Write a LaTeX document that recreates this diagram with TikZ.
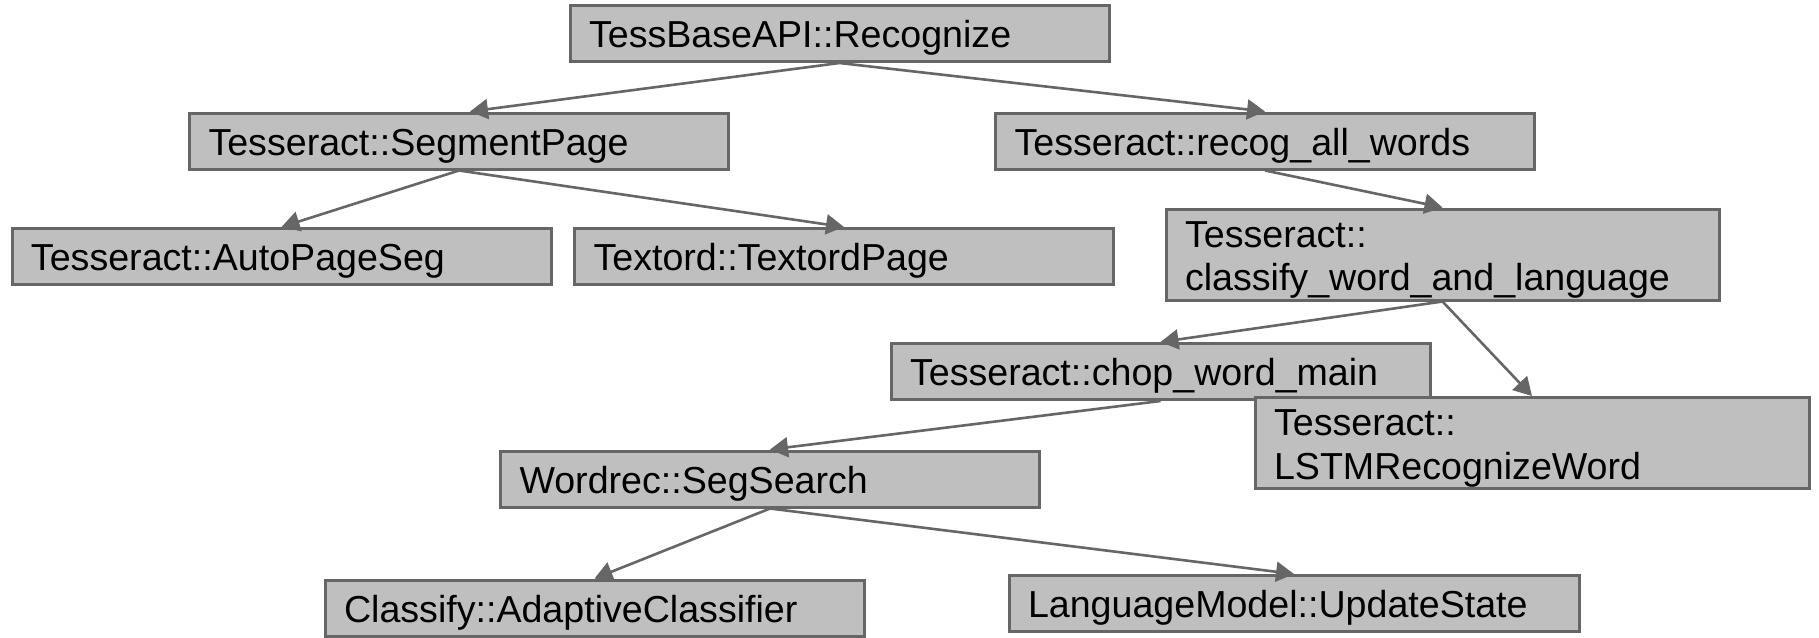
\documentclass[tikz,border=0pt]{standalone}
\usepackage{fontspec}
\setmainfont{Liberation Sans}
\usetikzlibrary{
  arrows.meta,
}
\definecolor{boxfill}{HTML}{BFBFBF}
\definecolor{boxline}{HTML}{666666}
\tikzset{
  >={Triangle[length=9pt,width=10pt]},
  fn/.style={rectangle,draw=boxline,fill=boxfill,line width=1.5pt,
    inner xsep=9.5pt,inner ysep=0pt,align=left,text width=250.5pt,
    minimum height=28pt,text height=14.2pt,text depth=0pt,
    font=\fontsize{18.8pt}{21.7pt}\selectfont},
  fn2/.style={fn,minimum height=45.5pt,text height=15pt,text depth=22.3pt},
  call/.style={->,draw=boxline,fill=none,line width=1.3pt},
}

\begin{document}
\begin{tikzpicture}[x=0.5pt,y=-0.5pt]

        \useasboundingbox (0,0) rectangle (1819,637);

        \node[fn] (rec)  at (839.5,33.5) {TessBaseAPI::Recognize};
        \node[fn] (seg)  at (459,141)    {Tesseract::SegmentPage};
        \node[fn] (raw)  at (1265,141)   {Tesseract::recog\_all\_words};
        \node[fn] (aps)  at (281.5,256.5) {Tesseract::AutoPageSeg};
        \node[fn] (tex)  at (844,256.5)  {Textord::TextordPage};
        \node[fn2,text width=257.5pt] (cwl) at (1442.5,254.5)
          {Tesseract::\\classify\_word\_and\_language};
        \node[fn] (cwm)  at (1160.5,371.5) {Tesseract::chop\_word\_main};
        \node[fn2,text width=258pt] (lstm) at (1532,443)
          {Tesseract::\\LSTMRecognizeWord};
        \node[fn] (ss)   at (770,479)    {Wordrec::SegSearch};
        \node[fn] (ac)   at (594.5,608)  {Classify::AdaptiveClassifier};
        \node[fn,text width=266pt] (us) at (1294,603.5) {LanguageModel::UpdateState};

        \draw[call] (rec.south) -- ([xshift=5.5pt]seg.north);
        \draw[call] (rec.south) -- (raw.north);
        \draw[call] (seg.south) -- (aps.north);
        \draw[call] (seg.south) -- (tex.north);
        \draw[call] (raw.south) -- (cwl.north);
        \draw[call] (cwl.south) -- (cwm.north);
        \draw[call] (cwl.south) -- (lstm.north);
        \draw[call] (cwm.south) -- (ss.north);
        \draw[call] (ss.south) -- (ac.north);
        \draw[call] (ss.south) -- (us.north);

      \end{tikzpicture}
\end{document}
